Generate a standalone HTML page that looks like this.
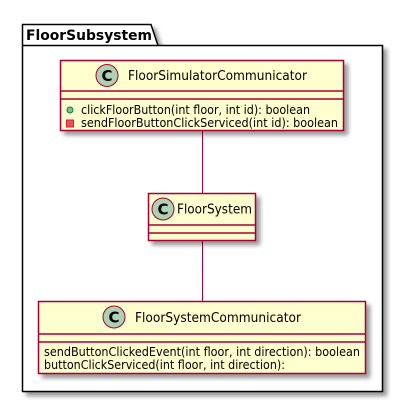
<!DOCTYPE html>
<html><head><style>
html,body{margin:0;padding:0;background:#fff;}
svg{display:block;}
text{font-family:"DejaVu Sans","Liberation Sans",sans-serif;}
</style></head><body>
<svg width="403" height="402" viewBox="0 0 403 402" xmlns="http://www.w3.org/2000/svg">
<defs><filter id="sh" x="-10%" y="-10%" width="130%" height="130%"><feGaussianBlur in="SourceAlpha" stdDeviation="2"/><feOffset dx="4" dy="4"/><feComponentTransfer><feFuncA type="linear" slope="0.4"/></feComponentTransfer><feMerge><feMergeNode/><feMergeNode in="SourceGraphic"/></feMerge></filter></defs>
<g filter="url(#sh)">
<path d="M22.5,24.5 L151,24.5 L158,45.5 L382.5,45.5 L382.5,391.5 L22.5,391.5 Z" fill="#fff" stroke="#000" stroke-width="1.5"/>
</g>
<line x1="22.5" y1="45.5" x2="158" y2="45.5" stroke="#000" stroke-width="1.5"/>
<text x="26" y="40" font-size="14" font-weight="bold" textLength="126" lengthAdjust="spacingAndGlyphs">FloorSubsystem</text>

<line x1="202.5" y1="131" x2="202.5" y2="193" stroke="#A80036" stroke-width="1"/>
<line x1="202.5" y1="241" x2="202.5" y2="301" stroke="#A80036" stroke-width="1"/>

<g filter="url(#sh)">
<rect x="60.5" y="60.5" width="283" height="70" fill="#FEFECE" stroke="#A80036" stroke-width="1.5"/>
<rect x="148.5" y="193.5" width="107" height="47" fill="#FEFECE" stroke="#A80036" stroke-width="1.5"/>
<rect x="38.5" y="301.5" width="327" height="72" fill="#FEFECE" stroke="#A80036" stroke-width="1.5"/>
</g>
<g stroke="#A80036" stroke-width="1.5">
<line x1="60.5" y1="91" x2="343.5" y2="91"/><line x1="60.5" y1="99" x2="343.5" y2="99"/>
<line x1="148.5" y1="225" x2="255.5" y2="225"/><line x1="148.5" y1="233" x2="255.5" y2="233"/>
<line x1="38.5" y1="334" x2="365.5" y2="334"/><line x1="38.5" y1="342" x2="365.5" y2="342"/>
</g>
<g stroke="#A80036" fill="#ADD1B2">
<circle cx="107" cy="75.5" r="11"/><circle cx="163" cy="209" r="11"/><circle cx="114" cy="317" r="11"/>
</g>
<g font-weight="bold" font-size="15" text-anchor="middle">
<text x="107" y="81">C</text><text x="163" y="214.5">C</text><text x="114" y="322.5">C</text>
</g>
<g font-size="13" lengthAdjust="spacingAndGlyphs">
<text x="128" y="80" textLength="179" lengthAdjust="spacingAndGlyphs">FloorSimulatorCommunicator</text>
<text x="177" y="213.5" textLength="75" lengthAdjust="spacingAndGlyphs">FloorSystem</text>
<text x="135" y="322" textLength="166" lengthAdjust="spacingAndGlyphs">FloorSystemCommunicator</text>
</g>
<circle cx="70" cy="110" r="3" fill="#84BE84" stroke="#038048" stroke-width="1"/>
<rect x="66.5" y="120" width="7" height="7" fill="#F24D5C" stroke="#C82930" stroke-width="1"/>
<g font-size="12">
<text x="81" y="114" textLength="229" lengthAdjust="spacingAndGlyphs">clickFloorButton(int floor, int id): boolean</text>
<text x="81" y="127" textLength="257" lengthAdjust="spacingAndGlyphs">sendFloorButtonClickServiced(int id): boolean</text>
<text x="44" y="356" textLength="316" lengthAdjust="spacingAndGlyphs">sendButtonClickedEvent(int floor, int direction): boolean</text>
<text x="44" y="369" textLength="241" lengthAdjust="spacingAndGlyphs">buttonClickServiced(int floor, int direction):</text>
</g>
</svg>
</body></html>
